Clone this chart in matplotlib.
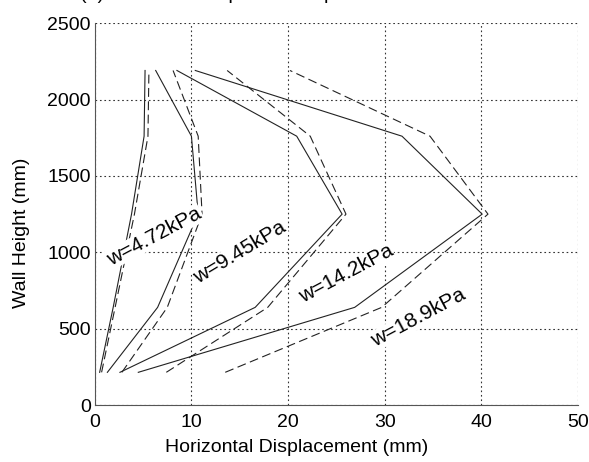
import matplotlib
matplotlib.use("Agg")
import matplotlib.pyplot as plt

plt.rcParams["font.family"] = ["Liberation Sans", "DejaVu Sans"]

# heights of the measuring points along the wall (mm)
heights = [215, 640, 1250, 1760, 2190]

# horizontal displacement (mm) per load, measured (solid) and predicted (dashed)
loads = ["w=4.72kPa", "w=9.45kPa", "w=14.2kPa", "w=18.9kPa"]
disp_solid = [
    [0.5, 1.9, 3.8, 5.1, 5.2],
    [1.3, 6.5, 10.7, 10.0, 6.3],
    [2.6, 16.6, 25.6, 20.9, 8.5],
    [4.5, 26.9, 40.1, 31.8, 10.4],
]
disp_dashed = [
    [0.7, 2.1, 4.1, 5.5, 5.6],
    [2.8, 7.5, 11.1, 10.7, 8.1],
    [7.4, 17.9, 26.0, 22.3, 13.7],
    [13.5, 29.7, 40.7, 34.7, 20.2],
]

# label placement (x, y, angle) for each load curve
label_pos = [(6.2, 1105, 28), (15.0, 1000, 31), (26.0, 857, 28), (33.5, 570, 28)]

fig = plt.figure(figsize=(5.89, 4.62), dpi=100)
ax = fig.add_axes([0.161, 0.123, 0.820, 0.827])

for xs, xd in zip(disp_solid, disp_dashed):
    ax.plot(xs, heights, color="#222222", lw=0.8)
    ax.plot(xd, heights, color="#222222", lw=0.8, dashes=(8, 4))

for text, (tx, ty, ang) in zip(loads, label_pos):
    ax.text(tx, ty, text, rotation=ang, fontsize=15, ha="center", va="center",
            rotation_mode="anchor", zorder=5,
            bbox=dict(facecolor="white", edgecolor="none", pad=0.5))

ax.set_xlim(0, 50)
ax.set_ylim(0, 2500)
ax.set_xticks([0, 10, 20, 30, 40, 50])
ax.set_yticks([0, 500, 1000, 1500, 2000, 2500])
ax.grid(True, color="#333333", linestyle=(0, (1.5, 2.5)), lw=0.8)
ax.set_axisbelow(True)
for s in ["top", "right"]:
    ax.spines[s].set_visible(False)
for s in ["left", "bottom"]:
    ax.spines[s].set_color("#555555")
ax.tick_params(direction="in", length=0, labelsize=14)
ax.tick_params(axis="x", pad=6)
ax.tick_params(axis="y", pad=3)

ax.set_xlabel("Horizontal Displacement (mm)", fontsize=14)
ax.set_ylabel("Wall Height (mm)", fontsize=14)
ax.xaxis.set_label_coords(0.418, -0.088)
ax.yaxis.set_label_coords(-0.135, 0.45)

fig.text(0.135, 1.003, "(a) Horizontal displacement profile", fontsize=14, va="baseline")

fig.savefig("out.png", dpi=100)
